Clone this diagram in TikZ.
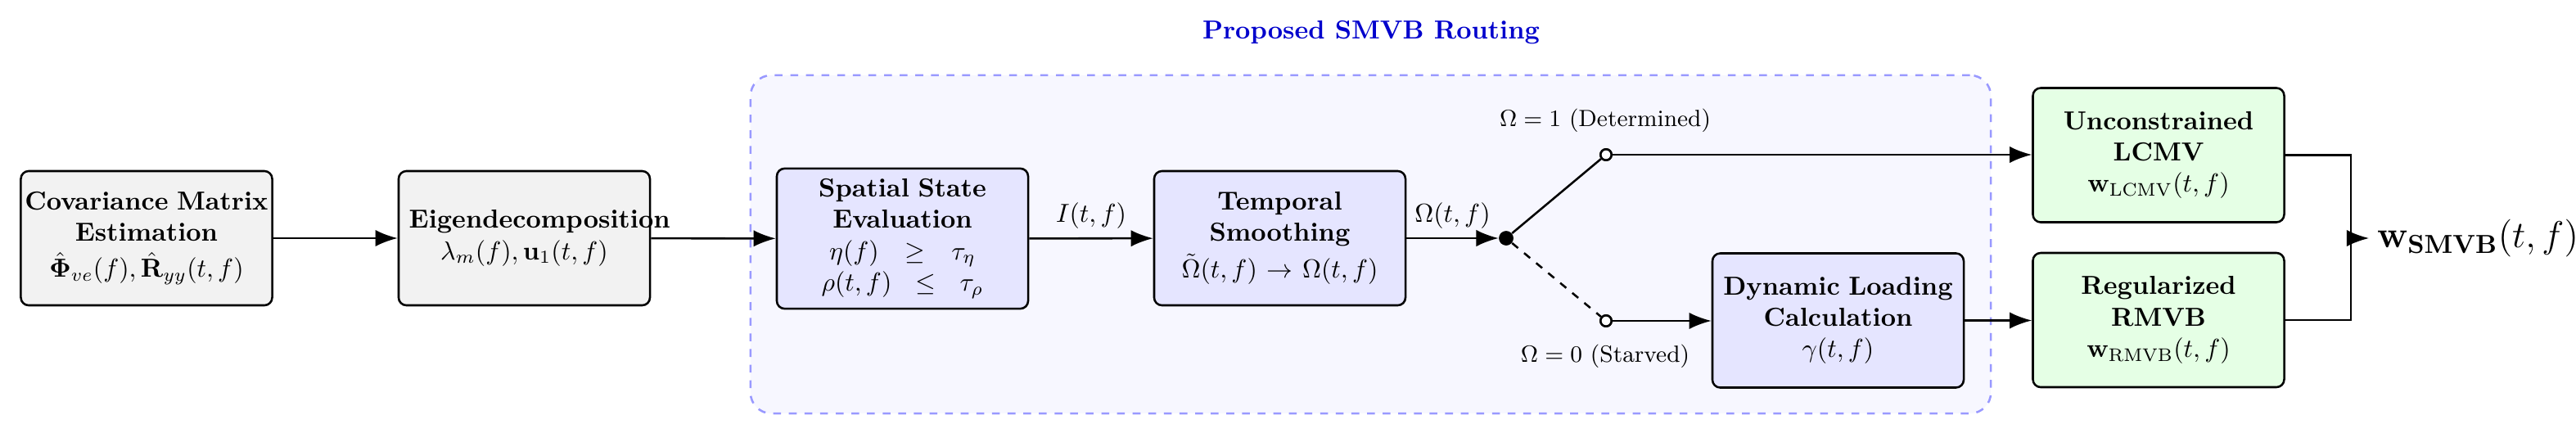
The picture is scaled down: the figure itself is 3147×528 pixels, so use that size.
\documentclass[tikz,border=0pt]{standalone}
\usepackage{amsmath}
\usetikzlibrary{arrows.meta,positioning,calc}
\begin{document}
\begin{tikzpicture}[x=0.011050cm,y=-0.011050cm,
  blk/.style={draw, thick, rounded corners=3pt, align=center, font=\bfseries,
    text width=3.11cm, minimum width=3.392cm, minimum height=1.812cm, inner sep=4pt},
  greybox/.style={blk, fill=gray!10},
  bluebox/.style={blk, fill=blue!10},
  greenbox/.style={blk, fill=green!10},
  arr/.style={thick, -{Latex[length=3mm]}},
  region/.style={draw=blue!40, dashed, thick, fill=blue!3, rounded corners=8pt,
    minimum width=16.74cm, minimum height=4.564cm},
  dotnode/.style={circle, fill, inner sep=0pt, minimum size=5.5pt},
  opennode/.style={circle, draw, thick, fill=white, inner sep=0pt, minimum size=4.2pt},
  lbl/.style={font=\small}
]
\useasboundingbox (0,0) rectangle (3147,528);

\node[region] (zone) at (1674.5,298.5) {};
\node[font=\bfseries, text=blue!80!black] (title) at (1675,40) {Proposed SMVB Routing};

\node[greybox] (cov) at (179,291) {\makebox[\linewidth][c]{Covariance Matrix}\\Estimation\\[2pt]$\hat{\mathbf{\Phi}}_{ve}(f), \hat{\mathbf{R}}_{yy}(t,f)$};
\node[greybox] (eig) at (640.5,291) {Eigendecomposition\\$\lambda_m(f), \mathbf{u}_1(t,f)$};
\node[bluebox] (spa) at (1102.5,291.5) {Spatial State\\Evaluation\\$\eta(f)\;\geq\;\tau_\eta$\\$\rho(t,f)\;\leq\;\tau_\rho$};
\node[bluebox] (tem) at (1563.5,291) {Temporal\\Smoothing\\[2pt]$\tilde{\Omega}(t,f)\rightarrow\Omega(t,f)$};
\node[bluebox] (dyn) at (2245.5,391.5) {Dynamic Loading\\Calculation\\$\gamma(t,f)$};
\node[greenbox] (unc) at (2637,189.5) {Unconstrained\\LCMV\\$\mathbf{w}_{\mathrm{LCMV}}(t,f)$};
\node[greenbox] (reg) at (2637,391) {Regularized\\RMVB\\$\mathbf{w}_{\mathrm{RMVB}}(t,f)$};

\node[dotnode] (j) at (1840,291) {};
\node[opennode] (s1) at (1962,189) {};
\node[opennode] (s2) at (1962,392) {};
\node[lbl] (l1) at (1961,147) {$\Omega=1$ (Determined)};
\node[lbl] (l0) at (1961,435) {$\Omega=0$ (Starved)};

\coordinate (m) at (2872,291);
\node[anchor=west, font=\Large, inner sep=3pt] (out) at (2894,291) {$\mathbf{w}_{\mathbf{SMVB}}(t,f)$};

\draw[arr] (cov) -- (eig);
\draw[arr] (eig) -- (spa);
\draw[arr] (spa) -- node[above] (il) {$I(t,f)$} (tem);
\draw[arr] (tem) -- node[above] (ol) {$\Omega(t,f)$} (j);
\draw[thick] (j) -- (s1);
\draw[thick, dashed] (j) -- (s2);
\draw[arr] (s1) -- (s1 -| unc.west);
\draw[arr] (s2) -- (s2 -| dyn.west);
\draw[arr] (dyn) -- (dyn -| reg.west);
\draw[thick] (unc.east) -| (m);
\draw[thick] (reg.east) -| (m);
\draw[arr] (m) -- (out.west);
\node[dotnode] at (j) {};
\node[opennode] at (s1) {};
\node[opennode] at (s2) {};
\end{tikzpicture}
\end{document}
